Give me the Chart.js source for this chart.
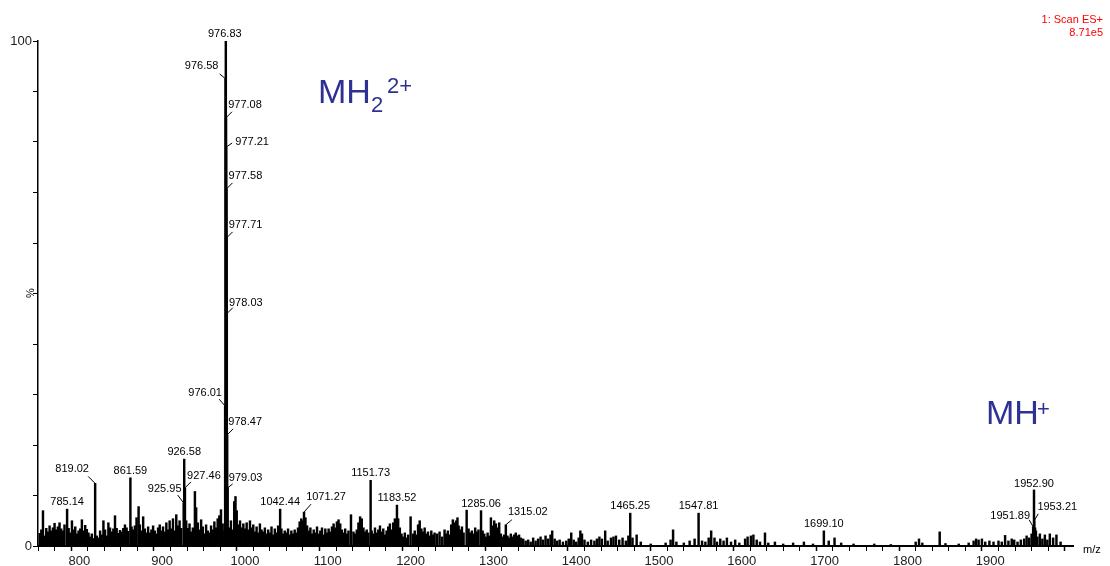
<!DOCTYPE html>
<html>
<head>
<meta charset="utf-8">
<style>
    body { margin: 0; background: #fff; }
    #spectrum { display: block; }
</style>
</head>
<body>
<canvas id="spectrum" width="1110" height="566"></canvas>
<script src="https://cdn.jsdelivr.net/npm/chart.js@4.4.0/dist/chart.umd.min.js"></script>
<script>

    /* global Chart */

    // m/z of every stick
    const mz = [
        752, 754, 756, 758, 760, 762, 764, 766, 768, 770, 772, 774, 776, 778, 780, 782, 785.14, 787, 789, 791, 793, 795, 797, 799,
        801, 803, 805, 807, 809, 811, 813, 815, 817, 819.02, 821, 823, 825, 827, 829, 831, 833, 835, 837, 839, 841, 843, 845, 847, 849,
        851, 853, 855, 857, 859, 861.59, 863, 865, 867, 869, 871.5, 873, 875, 877, 879, 881, 883, 885, 887, 889, 891, 893, 895, 897, 899,
        901, 903, 905, 907, 909, 911, 913, 915, 917, 919, 921, 923, 925.95, 926.58, 927.46, 929, 931, 933, 935, 937, 939.5, 941, 943, 945, 947, 949, 951, 953, 955, 957, 959, 961, 963, 965, 967, 969, 971, 973, 975,
        976.01, 976.58, 976.83, 977.08, 977.21, 977.58, 977.71, 978.03, 978.47, 979.03,
        981, 983, 985, 987, 988.5, 990, 992, 994, 996, 998,
        1000, 1002, 1004, 1006, 1008, 1010, 1012, 1014, 1016, 1018, 1020, 1022, 1024, 1026, 1028, 1030, 1032, 1034, 1036, 1038, 1040, 1042.44, 1044, 1046, 1048,
        1050, 1052, 1054, 1056, 1058, 1060, 1062, 1064, 1066, 1068, 1070, 1071.27, 1073, 1075, 1077, 1079, 1081, 1083, 1085, 1087, 1089, 1091, 1093, 1095, 1097, 1099,
        1101, 1103, 1105, 1107, 1109, 1111, 1113, 1115, 1117, 1119, 1121, 1123, 1125, 1128, 1131, 1133, 1135, 1137, 1139, 1141, 1143, 1145, 1147, 1149, 1151.73,
        1153, 1155, 1157, 1159, 1161, 1163, 1165, 1167, 1169, 1171, 1173, 1175, 1177, 1179, 1181, 1183.52, 1185, 1187, 1189, 1191, 1193, 1195, 1197, 1200,
        1203, 1205, 1207, 1209, 1211, 1213, 1215, 1217, 1219, 1221, 1223, 1225, 1227, 1229, 1232, 1235, 1238, 1241, 1243, 1245, 1247, 1249, 1251, 1253, 1255, 1256.6, 1258, 1260, 1262, 1264, 1267.7, 1270, 1272, 1274, 1276, 1278, 1280, 1282, 1285.06, 1287, 1289, 1291, 1293, 1295, 1297, 1299, 1301, 1303, 1305, 1307, 1309, 1311, 1313, 1315.02,
        1317, 1319, 1321, 1323, 1325, 1327, 1329, 1331, 1333, 1336, 1339, 1342, 1345, 1348, 1351, 1354, 1357, 1360, 1363, 1366, 1369, 1371, 1374, 1377, 1380, 1384, 1388, 1391, 1394, 1397, 1400, 1403, 1405, 1407, 1410, 1414, 1418, 1422, 1425, 1428, 1431, 1435, 1438, 1442, 1445, 1448, 1452, 1456, 1460, 1463, 1465.25, 1468, 1473, 1478, 1490,
        1508, 1514, 1517, 1521, 1530, 1537, 1543, 1547.81, 1552, 1556, 1560, 1563, 1567, 1570, 1574, 1578, 1582, 1587, 1592, 1597, 1604, 1607, 1611, 1614, 1618, 1622, 1628, 1632, 1640, 1650, 1662, 1675, 1686, 1699.10, 1705, 1712, 1720, 1735, 1760, 1780,
        1810, 1814, 1818, 1839, 1846, 1862, 1874, 1880, 1883, 1886, 1890, 1894, 1899, 1904, 1910, 1914, 1918, 1922, 1926, 1929, 1933, 1937, 1941, 1944, 1947, 1950, 1951.89, 1952.90, 1953.21, 1954.2, 1955.2, 1957, 1960, 1963, 1966, 1969, 1972, 1976, 1980, 1985
    ];

    // relative intensity (%), same order as mz
    const intensity = [
        2.5, 3.2, 7.0, 2.0, 3.5, 2.8, 4.0, 3.0, 3.6, 4.5, 3.2, 3.8, 4.6, 3.4, 3.0, 4.2, 7.3, 3.5, 2.6, 5.0, 3.2, 3.8, 2.4, 3.0,
        3.4, 5.2, 3.0, 4.1, 3.3, 2.6, 1.8, 2.4, 1.5, 12.4, 2.0, 1.6, 3.0, 2.2, 5.0, 3.2, 2.0, 4.6, 3.6, 2.8, 3.4, 6.0, 3.5, 2.5, 3.1,
        2.8, 3.5, 4.2, 3.6, 2.9, 13.5, 3.8, 3.2, 4.0, 5.6, 7.8, 4.2, 3.0, 5.8, 3.4, 2.6, 3.8, 2.6, 3.2, 4.0, 3.0, 2.4, 3.6, 4.2, 3.0,
        3.8, 2.8, 4.6, 3.2, 5.0, 3.4, 5.4, 3.0, 6.2, 4.0, 5.0, 3.5, 8.5, 17.2, 11.5, 5.0, 3.5, 4.4, 2.8, 3.6, 10.8, 7.6, 4.6, 3.2, 5.2, 3.8, 2.4, 4.2, 3.0, 2.6, 4.0, 3.2, 4.8, 3.6, 5.4, 6.0, 7.2, 4.4, 3.0,
        27.7, 92.5, 100, 84.8, 79, 70.7, 61, 46, 22, 11.5,
        3.6, 5.0, 3.2, 8.8, 9.8, 7.0, 4.2, 5.0, 3.6, 4.4,
        3.4, 4.6, 3.2, 5.0, 3.6, 4.2, 2.8, 3.8, 2.6, 4.4, 3.2, 2.8, 3.6, 2.4, 3.2, 2.6, 3.8, 2.2, 3.4, 2.6, 4.0, 7.3, 3.4, 2.4, 3.0,
        2.6, 3.4, 2.2, 3.0, 2.4, 3.2, 2.6, 3.6, 4.8, 5.4, 5.0, 6.7, 5.6, 4.0, 3.0, 3.6, 2.4, 3.2, 2.6, 3.8, 2.4, 3.0, 3.6, 2.2, 3.4, 2.6,
        3.4, 2.8, 3.8, 4.4, 3.6, 4.8, 5.2, 4.4, 3.2, 2.6, 3.4, 2.4, 3.0, 6.2, 2.8, 2.4, 3.2, 4.6, 5.8, 5.4, 3.6, 2.8, 3.2, 2.6, 13.0,
        3.0, 2.4, 3.6, 2.6, 3.2, 4.0, 2.8, 3.4, 2.2, 3.0, 3.8, 4.4, 3.2, 4.6, 5.4, 8.1, 5.4, 3.6, 2.4, 1.8, 2.6, 1.6, 2.2, 5.8,
        2.4, 3.0, 2.2, 4.2, 5.0, 3.4, 2.8, 3.6, 2.4, 2.8, 2.0, 3.0, 2.2, 2.6, 2.4, 2.8, 1.8, 3.2, 2.4, 3.0, 2.2, 4.2, 5.2, 4.6, 5.0, 5.6, 4.0, 3.2, 3.8, 2.6, 7.1, 3.4, 2.6, 3.0, 2.4, 3.6, 2.8, 3.2, 7.0, 3.0, 2.4, 1.8, 2.6, 2.0, 5.6, 4.0, 5.0, 4.4, 3.6, 4.6, 2.4, 1.8, 2.2, 4.2,
        2.0, 1.6, 2.4, 1.8, 2.2, 2.6, 2.0, 2.2, 1.6, 1.4, 1.0, 1.2, 0.8, 1.6, 1.0, 1.4, 1.8, 1.2, 2.0, 1.4, 2.2, 3.0, 1.4, 1.0, 1.2, 0.8, 1.0, 1.4, 2.6, 1.2, 0.8, 1.6, 3.0, 2.4, 1.2, 0.8, 1.2, 1.0, 1.4, 1.8, 1.4, 3.0, 1.0, 1.6, 1.8, 2.0, 1.2, 1.6, 1.0, 2.0, 6.5, 1.6, 2.2, 0.8, 0.4,
        0.6, 1.2, 3.2, 0.8, 0.6, 1.0, 1.4, 6.5, 1.0, 0.8, 1.6, 3.0, 1.6, 0.8, 1.4, 1.0, 1.6, 0.8, 1.2, 0.6, 1.4, 1.8, 2.0, 2.2, 1.2, 0.8, 2.6, 0.6, 0.8, 0.4, 0.6, 0.8, 0.4, 3.0, 1.0, 1.6, 0.6, 0.4, 0.4, 0.3,
        0.8, 1.4, 0.6, 2.8, 0.5, 0.4, 0.6, 1.0, 1.4, 1.2, 1.4, 0.8, 1.0, 0.8, 1.0, 0.8, 2.1, 1.0, 1.4, 1.2, 0.8, 1.2, 1.4, 2.0, 1.6, 2.4, 3.8, 11.1, 5.0, 3.6, 3.0, 1.8, 2.4, 1.4, 2.2, 1.2, 2.4, 1.6, 2.2, 0.8
    ];

    // peaks that carry an m/z label
    const labelMz = [976.83, 976.58, 977.08, 977.21, 977.58, 977.71, 978.03, 976.01, 978.47, 979.03,
        926.58, 925.95, 927.46, 819.02, 861.59, 785.14, 1042.44, 1071.27, 1151.73, 1183.52,
        1285.06, 1315.02, 1465.25, 1547.81, 1699.10, 1952.90, 1951.89, 1953.21];

    // label text offset from the peak top [dx, dy] and optional leader start [lx, ly], px
    const labelLayout = [
        [-1, -7], [-24, -13, -6, -5], [19, -13, 6, -6], [26, -5, 6, -4], [19, -13, 6, -6],
        [19, -13, 6, -6], [19, -11, 6, -6], [-20, -13, -6, -7], [18, -13, 6, -6], [18, -10, 5, -4],
        [0, -7], [-19, -14, -6, -8], [19, -12, 6, -6], [-23, -14, -7, -7], [0, -7],
        [0, -7], [0, -7], [22, -15, 7, -8], [0, -7], [0, -7],
        [0, -7], [22, -13, 6, -5], [0, -7], [0, -7], [0, -7],
        [0, -6], [-23, -11, -4, -7], [23, -14, 4, -7]
    ];

    const xTickStep = 20;
    const yTickStep = 10;
    const ink = '#2e3192';

    const peakLabels = {
        id: 'peakLabels',
        afterDatasetsDraw(chart) {
            const ctx = chart.ctx;
            const xs = chart.scales.x;
            const ys = chart.scales.y;
            ctx.save();
            ctx.font = "11px 'Liberation Sans', Arial, sans-serif";
            ctx.fillStyle = '#000';
            ctx.strokeStyle = '#000';
            ctx.lineWidth = 1;
            ctx.textAlign = 'center';
            ctx.textBaseline = 'middle';
            labelMz.forEach(function (m, i) {
                const v = intensity[mz.indexOf(m)];
                const px = xs.getPixelForValue(m);
                const py = ys.getPixelForValue(v);
                const lay = labelLayout[i];
                ctx.fillText(m.toFixed(2), px + lay[0], py + lay[1]);
                if (lay.length > 2) {
                    ctx.beginPath();
                    ctx.moveTo(px + lay[2], py + lay[3]);
                    ctx.lineTo(px, py);
                    ctx.stroke();
                }
            });

            // axis captions
            ctx.textAlign = 'left';
            ctx.fillText('m/z', 1083, 550);
            ctx.save();
            ctx.translate(31, 293);
            ctx.rotate(-Math.PI / 2);
            ctx.textAlign = 'center';
            ctx.fillText('%', 0, 0);
            ctx.restore();

            // scan header
            ctx.fillStyle = '#f00';
            ctx.textAlign = 'right';
            ctx.fillText('1: Scan ES+', 1103, 20);
            ctx.fillText('8.71e5', 1103, 33);

            // ion annotations
            ctx.fillStyle = ink;
            ctx.textAlign = 'left';
            ctx.textBaseline = 'alphabetic';
            ctx.font = "34px 'Liberation Sans', Arial, sans-serif";
            ctx.fillText('MH', 318, 103);
            ctx.fillText('MH', 986, 424);
            ctx.font = "22px 'Liberation Sans', Arial, sans-serif";
            ctx.fillText('2', 371, 112);
            ctx.fillText('2+', 387, 93);
            ctx.fillText('+', 1037, 416);
            ctx.restore();
        }
    };

    new Chart(document.getElementById('spectrum'), {
        type: 'bar',
        data: {
            datasets: [{
                data: mz.map((m, i) => ({x: m, y: intensity[i]})),
                backgroundColor: '#000',
                borderWidth: 0,
                barThickness: 1.8
            }]
        },
        options: {
            responsive: false,
            animation: false,
            devicePixelRatio: 1,
            layout: {padding: {top: 41, right: 37, left: 0, bottom: 0}},
            plugins: {legend: {display: false}, tooltip: {enabled: false}},
            scales: {
                x: {
                    type: 'linear',
                    min: 750,
                    max: 2000,
                    offset: false,
                    grid: {
                        drawOnChartArea: false,
                        tickLength: 5,
                        tickColor: '#000',
                        tickWidth: c => (c.tick && c.tick.value % 100 === 0 ? 1.5 : 1)
                    },
                    border: {display: true, color: '#000', width: 2},
                    ticks: {
                        stepSize: xTickStep,
                        includeBounds: false,
                        autoSkip: false,
                        maxRotation: 0,
                        padding: 3,
                        color: '#222',
                        font: {family: "'Liberation Sans', Arial, sans-serif", size: 13},
                        callback: v => (v % 100 === 0 && v < 2000 ? v : '')
                    },
                    afterFit: s => { s.height = 20; }
                },
                y: {
                    min: 0,
                    max: 100,
                    grid: {drawOnChartArea: false, tickLength: 5, tickColor: '#000'},
                    border: {display: true, color: '#000', width: 1.5},
                    ticks: {
                        stepSize: yTickStep,
                        padding: 1,
                        color: '#222',
                        font: {family: "'Liberation Sans', Arial, sans-serif", size: 13},
                        callback: v => (v === 0 || v === 100 ? v : '')
                    },
                    afterFit: s => { s.width = 38; }
                }
            }
        },
        plugins: [peakLabels]
    });

</script>
</body>
</html>
